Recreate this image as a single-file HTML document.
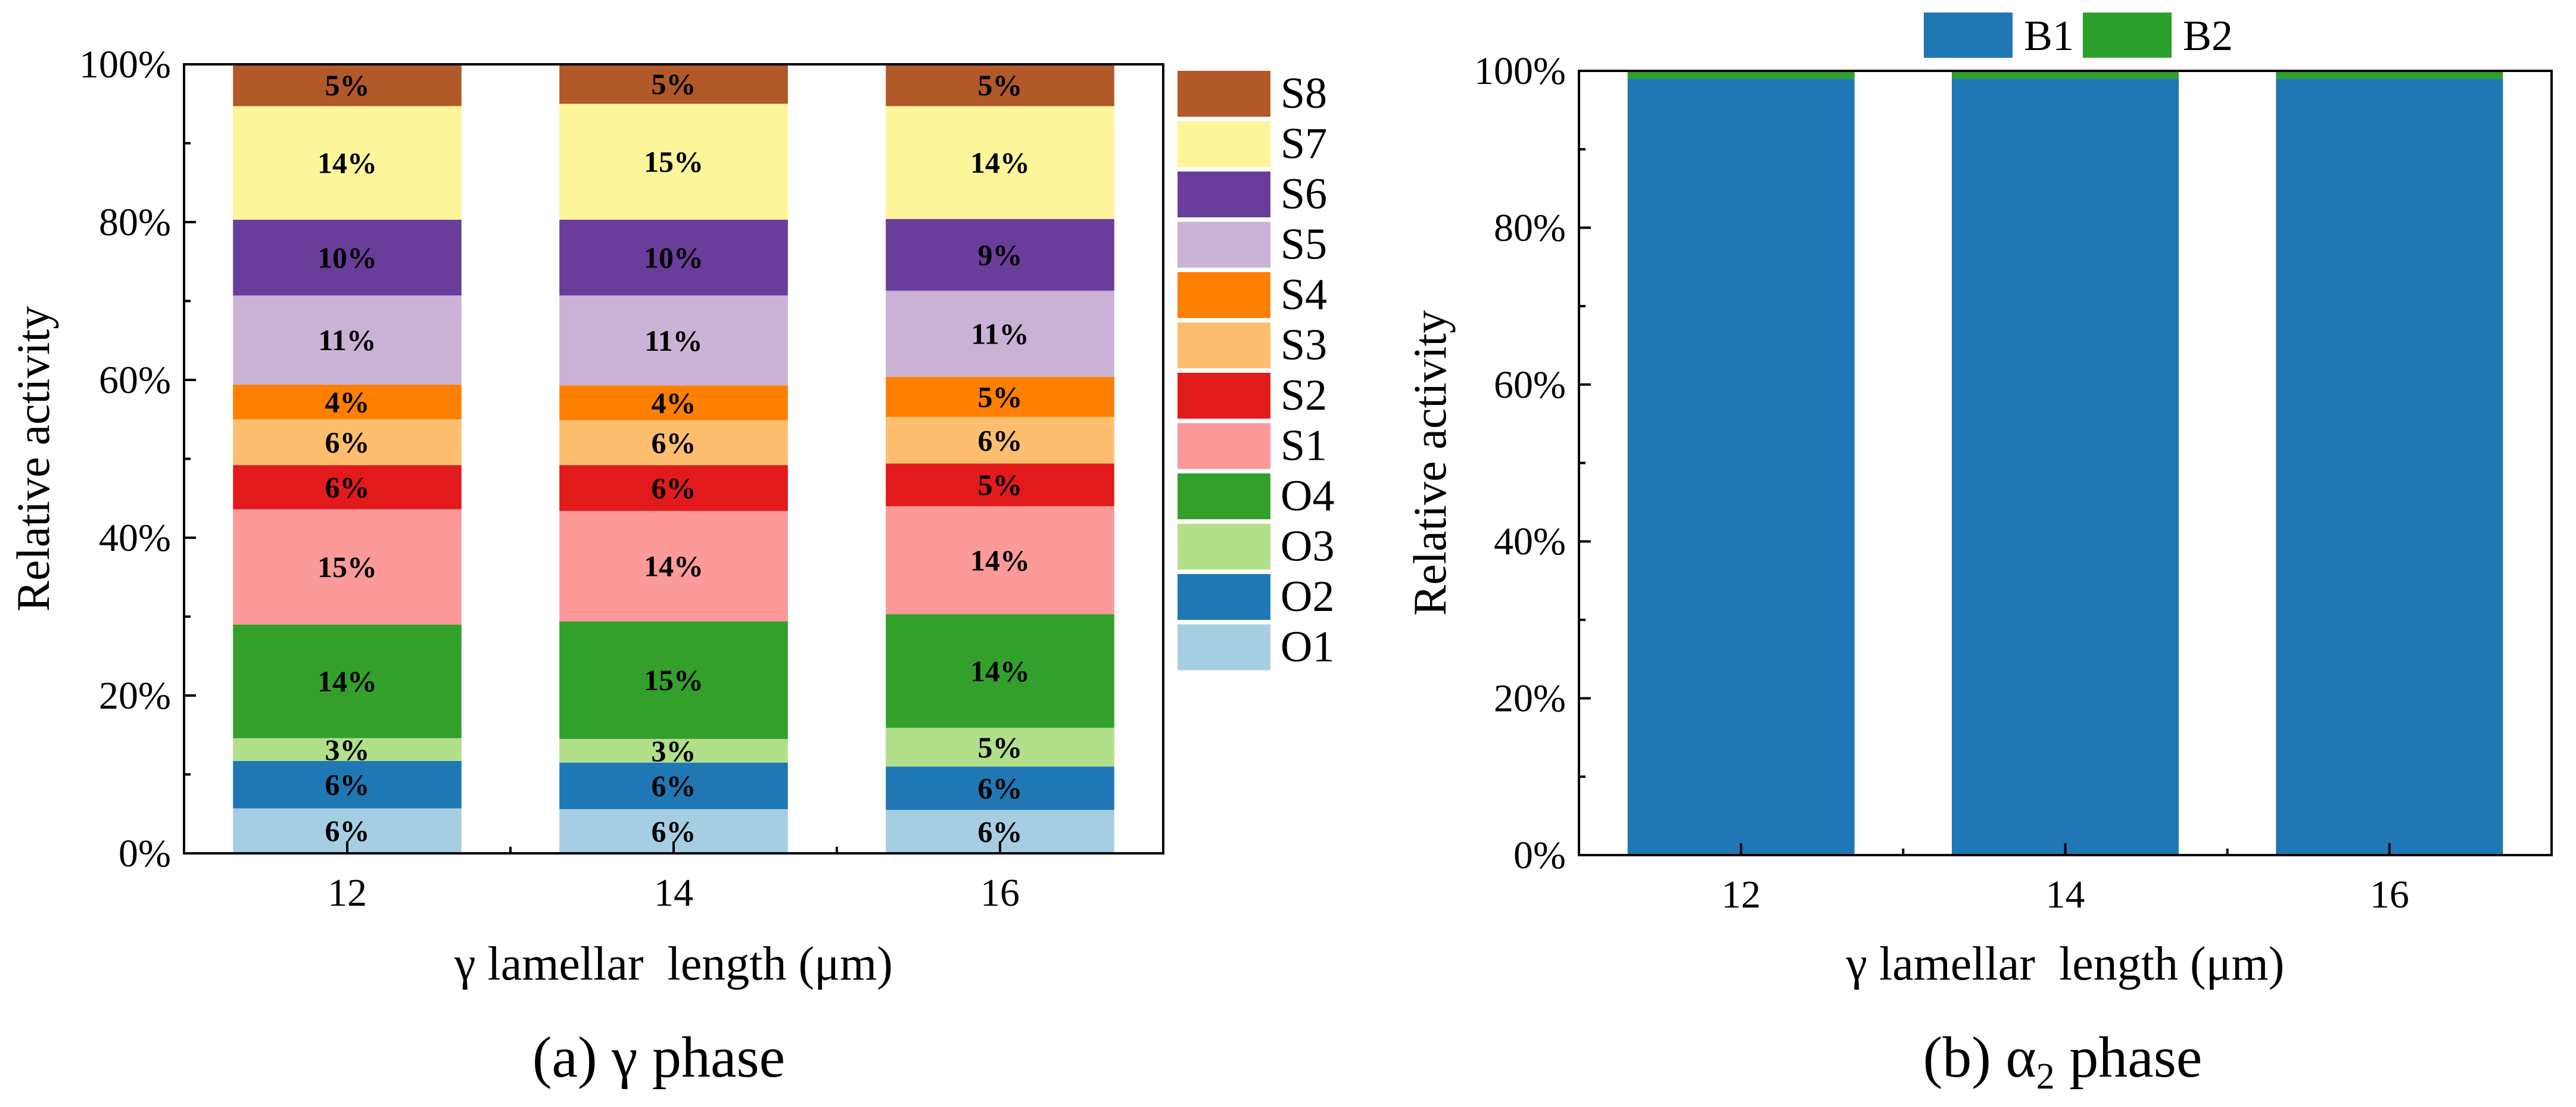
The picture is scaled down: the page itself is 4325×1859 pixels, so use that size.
<!DOCTYPE html>
<html><head><meta charset="utf-8"><style>
html,body{margin:0;padding:0;background:#fff;}
svg{display:block;}
svg text{font-family:"Liberation Serif","Times New Roman",serif;white-space:pre;}
</style></head><body>
<svg id="fig" width="4325" height="1859" viewBox="0 0 4325 1859" xmlns="http://www.w3.org/2000/svg" font-family="Liberation Serif, serif"></svg>
<script>
const categories = [12, 14, 16];
const seriesNames = ["O1","O2","O3","O4","S1","S2","S3","S4","S5","S6","S7","S8"];
const O1 = [5.7, 5.6, 5.5];
const O2 = [6.0, 5.9, 5.5];
const O3 = [2.9, 3.0, 4.9];
const O4 = [14.4, 14.9, 14.4];
const S1 = [14.6, 14.0, 13.7];
const S2 = [5.6, 5.8, 5.4];
const S3 = [5.8, 5.7, 5.9];
const S4 = [4.4, 4.4, 5.1];
const S5 = [11.3, 11.4, 10.9];
const S6 = [9.6, 9.6, 9.1];
const S7 = [14.4, 14.7, 14.3];
const S8 = [5.3, 5.0, 5.3];
const B1 = [99, 99, 99];
const B2 = [1, 1, 1];
const yTicks = [0, 20, 40, 60, 80, 100];
const xTicks = [12, 14, 16];

const colors = {O1:"#a6cee3",O2:"#1f78b4",O3:"#b2df8a",O4:"#33a02c",S1:"#fb9a99",S2:"#e31a1c",S3:"#fdbf6f",S4:"#ff7f00",S5:"#cab2d6",S6:"#6a3d9a",S7:"#fdf59a",S8:"#b15928",B1:"#1f77b4",B2:"#2ca02c"};
const seriesA = {O1,O2,O3,O4,S1,S2,S3,S4,S5,S6,S7,S8};
const NS = "http://www.w3.org/2000/svg";
const svg = document.getElementById("fig");
function el(tag, attrs, parent, text){
  const e = document.createElementNS(NS, tag);
  for (const k in attrs) e.setAttribute(k, attrs[k]);
  if (tag === "text") e.setAttribute("font-family", "Liberation Serif, serif");
  if (text !== undefined) e.textContent = text;
  (parent||svg).appendChild(e);
  return e;
}

function drawPanel(p){
  const g = el("g", {}, svg);
  
  
  const xS = v => p.L + (v - 11) / 6 * (p.R - p.L);
  const yS = v => p.B - v / 100 * (p.B - p.T);
  const bw = 1.4 / 6 * (p.R - p.L);
  categories.forEach((c, i) => {
    let acc = 0;
    p.names.forEach(n => {
      const v = p.data[n][i];
      const y0 = yS(acc), y1 = yS(acc + v);
      const r = el("rect", {x: xS(c) - bw/2, y: y1, width: bw, height: y0 - y1, fill: colors[n]}, g);
      
      
      if (p.labels) {
        const t = el("text", {x: xS(c), y: (y0 + y1)/2 + 17, "text-anchor":"middle", "font-size":50, "font-weight":"bold", fill:"#000"}, g, Math.round(v) + "%");
        
        
      }
      acc += v;
    });
  });
  const f = el("rect", {x: p.L, y: p.T, width: p.R - p.L, height: p.B - p.T, fill:"none", stroke:"#000", "stroke-width":4}, g);
  
  
  for (let v = 0; v <= 100; v += 10) {
    const len = v % 20 === 0 ? 20 : 11;
    el("line", {x1: p.L, x2: p.L + len, y1: yS(v), y2: yS(v), stroke:"#000", "stroke-width":4}, g);
  }
  yTicks.forEach(v => {
    const t = el("text", {x: p.L - 22, y: yS(v) + 22, "text-anchor":"end", "font-size":66}, g, v + "%");
    
    
  });
  [12,13,14,15,16].forEach(v => {
    const len = xTicks.includes(v) ? 20 : 11;
    el("line", {x1: xS(v), x2: xS(v), y1: p.B, y2: p.B - len, stroke:"#000", "stroke-width":4}, g);
  });
  xTicks.forEach(v => {
    const t = el("text", {x: xS(v), y: p.B + 88, "text-anchor":"middle", "font-size":66}, g, String(v));
    
    
  });
  const yt = el("text", {x: 0, y: 0, transform: `translate(${p.ytx},${(p.T+p.B)/2}) rotate(-90)`, "text-anchor":"middle", "font-size":78}, g, "Relative activity");
  
  
  const xt = el("text", {x: (p.L+p.R)/2, y: 1645, "text-anchor":"middle", "font-size":80}, g, "\u03b3 lamellar  length (\u03bcm)");
  
  
}

drawPanel({name:"gamma-phase-chart", L:309, R:1953, T:108, B:1433, names: seriesNames, data: seriesA, labels: true, ytx: 82});
drawPanel({name:"alpha2-phase-chart", L:2651, R:4284, T:119, B:1436, names: ["B1","B2"], data: {B1, B2}, labels: false, ytx: 2427});

const legA = el("g", {}, svg);


seriesNames.slice().reverse().forEach((n, i) => {
  const y = 119 + i * 84.5;
  const r = el("rect", {x:1977, y:y, width:156, height:77, fill: colors[n]}, legA);
  
  
  const t = el("text", {x:2150, y:y + 62, "font-size":74}, legA, n);
  
  
});
const legB = el("g", {}, svg);


[["B1",3230],["B2",3497]].forEach(([n, x]) => {
  const r = el("rect", {x:x, y:21, width:149, height:76, fill: colors[n]}, legB);
  
  
  const t = el("text", {x:x + 168, y:84, "font-size":72}, legB, n);
  
  
});
const c1 = el("text", {x:1106, y:1808, "text-anchor":"middle", "font-size":98}, svg, "(a) \u03b3 phase");


const c2 = el("text", {x:3463, y:1808, "text-anchor":"middle", "font-size":98}, svg);


el("tspan", {}, c2, "(b) \u03b1");
el("tspan", {"font-size":62, dy:20}, c2, "2");
el("tspan", {dy:-20}, c2, " phase");
</script>
</body></html>
